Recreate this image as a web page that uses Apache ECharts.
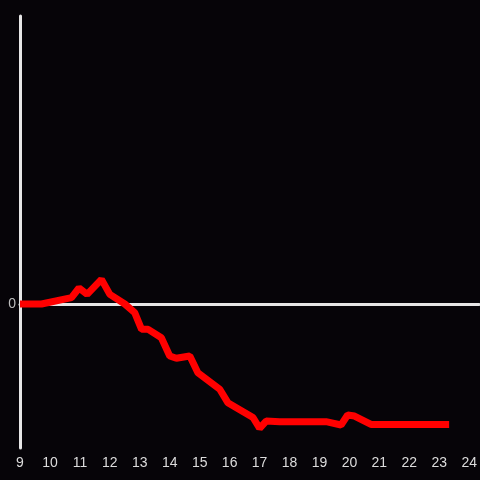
<!DOCTYPE html>
<html><head><meta charset="utf-8">
<script src="https://cdn.jsdelivr.net/npm/echarts@6/dist/echarts.min.js"></script>
<style>html,body{margin:0;padding:0;background:#060408}#c{width:480px;height:480px}</style>
</head><body><div id="c"></div>
<script>
var hours = [9.0, 9.72, 10.72, 10.97, 11.24, 11.72, 12.0, 12.5, 12.83, 13.06, 13.28, 13.72, 14.0, 14.22, 14.67, 14.94, 15.67, 15.94, 16.78, 17.0, 17.22, 17.67, 19.22, 19.72, 19.94, 20.17, 20.72, 23.33];
var values = [0, 0, 0.044, 0.111, 0.067, 0.171, 0.067, 0, -0.06, -0.176, -0.176, -0.234, -0.361, -0.377, -0.361, -0.477, -0.592, -0.685, -0.788, -0.863, -0.813, -0.817, -0.817, -0.84, -0.771, -0.778, -0.836, -0.836];
var xTicks = [9,10,11,12,13,14,15,16,17,18,19,20,21,22,23,24];
var yLabels = {'0':'0'};

var data = hours.map(function(h,i){return [h, values[i]];});
var chart = echarts.init(document.getElementById('c'));
chart.setOption({
  backgroundColor:'#060408',
  animation:false,
  grid:{left:20,right:0,top:16,bottom:32},
  xAxis:[{
    type:'value', min:9, max:24 + 1/3, interval:1, position:'bottom',
    axisLine:{show:false,onZero:false}, axisTick:{show:false}, splitLine:{show:false},
    axisLabel:{color:'#dcdcdc',fontSize:14,margin:8,showMaxLabel:false,
      formatter:function(v){return xTicks.indexOf(v)>=0?String(v):'';}}
  },{
    type:'value', min:9, max:24 + 1/3, interval:1, position:'bottom',
    axisLine:{show:true,onZero:true,onZeroAxisIndex:0,lineStyle:{color:'#e6e6e6',width:3}},
    axisTick:{show:false}, axisLabel:{show:false}, splitLine:{show:false}
  }],
  yAxis:{
    type:'value', min:-1, max:2, interval:1,
    axisLine:{show:true,onZero:false,lineStyle:{color:'#e6e6e6',width:3}},
    axisTick:{show:false}, splitLine:{show:false},
    axisLabel:{color:'#bdbdbd',fontSize:14,margin:4,
      formatter:function(v){return yLabels[String(v)]||'';}}
  },
  series:[{
    type:'line', data:data, xAxisIndex:0, showSymbol:false,
    lineStyle:{color:'#ff0000',width:7}, z:5
  }]
});
</script></body></html>
